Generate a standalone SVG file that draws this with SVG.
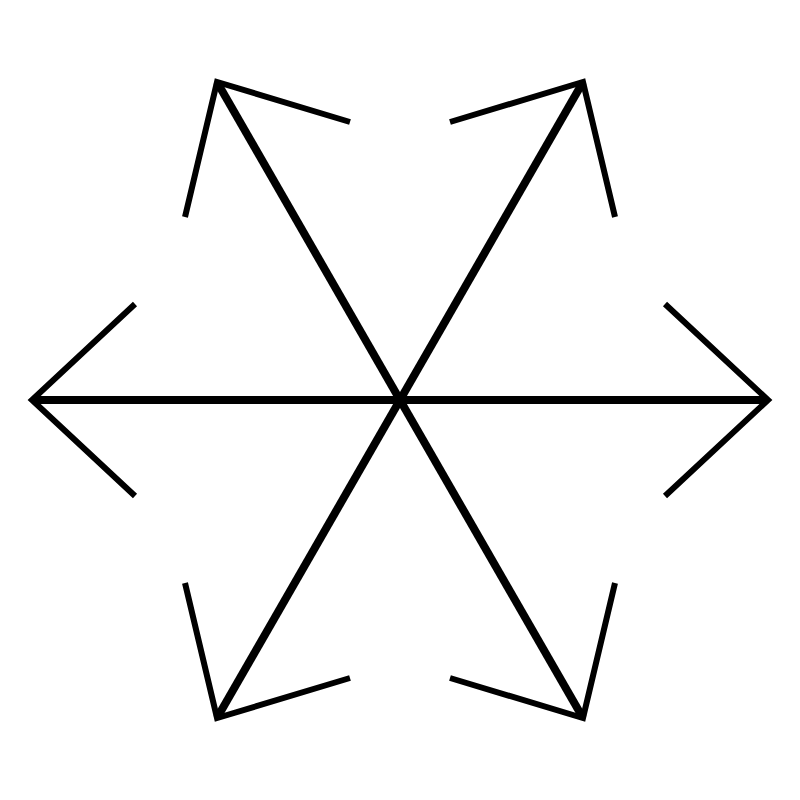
<svg xmlns="http://www.w3.org/2000/svg" width="800" height="800" viewBox="0 0 800 800">
<style>
.shaft{stroke:#000;stroke-width:8;fill:none;stroke-linecap:butt}
.head{stroke:#000;stroke-width:6;fill:none;stroke-linecap:butt;stroke-linejoin:miter}
</style>
<rect width="800" height="800" fill="#fff"/>
<g id="connectors">
<line class="shaft" x1="400" y1="400" x2="32" y2="400"/>
<line class="shaft" x1="400" y1="400" x2="768" y2="400"/>
<line class="shaft" x1="400" y1="400" x2="217" y2="82"/>
<line class="shaft" x1="400" y1="400" x2="583" y2="82"/>
<line class="shaft" x1="400" y1="400" x2="217" y2="718"/>
<line class="shaft" x1="400" y1="400" x2="583" y2="718"/>
<polyline class="head" points="135,304 32,400 135,496"/>
<polyline class="head" points="665,304 768,400 665,496"/>
<polyline class="head" points="350,122 217,82 185,217"/>
<polyline class="head" points="450,122 583,82 615,217"/>
<polyline class="head" points="350,678 217,718 185,583"/>
<polyline class="head" points="450,678 583,718 615,583"/>
</g>
</svg>
